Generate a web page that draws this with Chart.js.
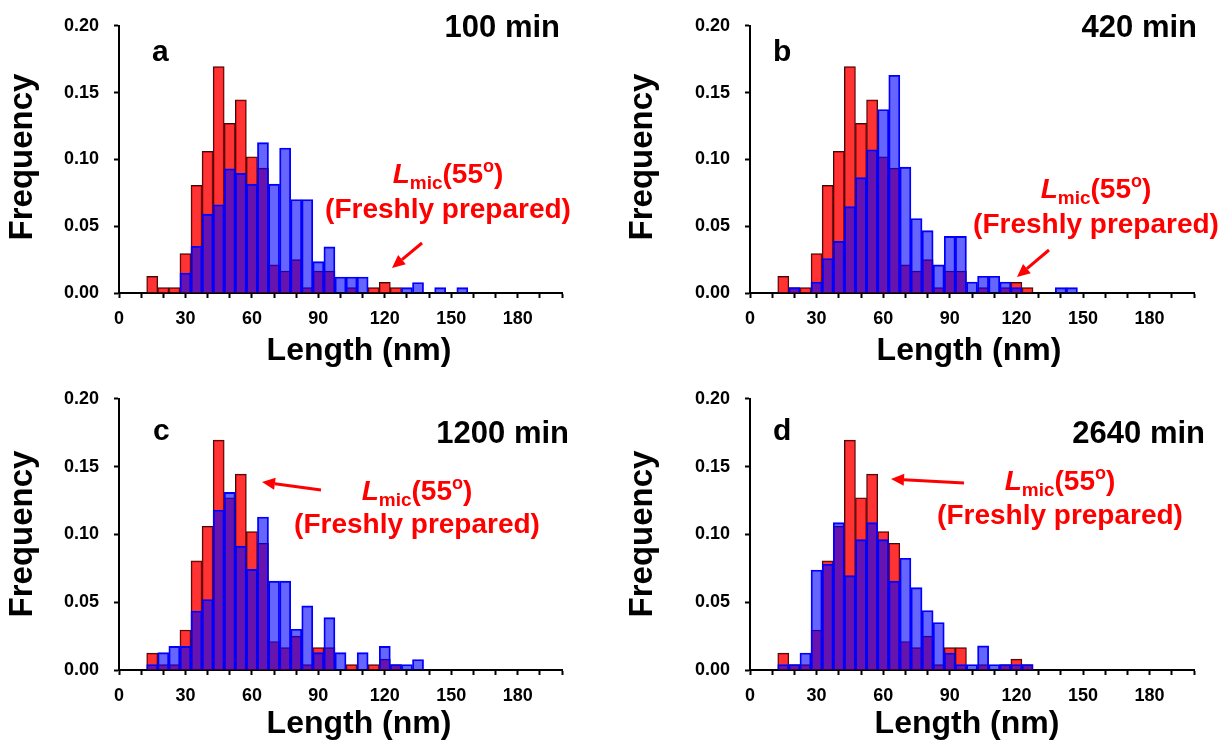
<!DOCTYPE html>
<html>
<head>
<meta charset="utf-8">
<script src="https://cdn.jsdelivr.net/npm/chart.js@4.4.1/dist/chart.umd.min.js"></script>
<style>
  html, body { margin: 0; padding: 0; background: #fff; }
  #wrap { position: relative; width: 1225px; height: 746px; overflow: hidden; }
  #wrap canvas { position: absolute; }
</style>
</head>
<body>
<div id="wrap">
  <canvas id="pa" width="612" height="373" style="left:0;top:0"></canvas>
  <canvas id="pb" width="613" height="373" style="left:612px;top:0"></canvas>
  <canvas id="pc" width="612" height="373" style="left:0;top:373px"></canvas>
  <canvas id="pd" width="613" height="373" style="left:612px;top:373px"></canvas>
</div>
<script>
// bin centres (nm), 5 nm wide
const bins = [15, 20, 25, 30, 35, 40, 45, 50, 55, 60, 65, 70, 75, 80, 85, 90, 95, 100,
              105, 110, 115, 120, 125, 130, 135, 140, 145, 150, 155];

// freshly prepared (red, same in every panel)
const fresh = [0.0125, 0.004, 0.004, 0.0295, 0.0805, 0.106, 0.1695, 0.127, 0.1445, 0.102,
               0.0935, 0.021, 0.0165, 0.025, 0.004, 0.0165, 0.0165, 0, 0.004, 0,
               0.004, 0.008, 0.004, 0, 0, 0, 0, 0, 0];

// aged samples (blue)
const len100 = [0, 0, 0, 0.015, 0.035, 0.059, 0.066, 0.093, 0.0895, 0.0815,
                0.1125, 0.0815, 0.1085, 0.070, 0.070, 0.0235, 0.0345, 0.012, 0.012, 0.012,
                0, 0, 0, 0.004, 0.0078, 0, 0.004, 0, 0.004];
const len420 = [0, 0.004, 0, 0.0082, 0.0258, 0.0386, 0.0646, 0.0863, 0.1072, 0.1373,
                0.163, 0.0942, 0.0557, 0.0467, 0.021, 0.0424, 0.0424, 0.0082, 0.0125, 0.0125,
                0.0082, 0.004, 0, 0, 0, 0.004, 0.004, 0, 0];
const len1200 = [0.004, 0.0128, 0.0174, 0.0174, 0.0435, 0.052, 0.118, 0.131, 0.0913, 0.0742,
                 0.1128, 0.0655, 0.0655, 0.030, 0.0473, 0.0128, 0.0386, 0.0128, 0, 0.0128,
                 0, 0.0174, 0.004, 0.004, 0.0077, 0, 0, 0, 0];
const len2640 = [0.004, 0.004, 0.0125, 0.0737, 0.078, 0.1087, 0.0696, 0.0961, 0.1087, 0.0961,
                 0.0655, 0.0824, 0.0607, 0.0439, 0.035, 0.0125, 0.004, 0.004, 0.0178, 0.004,
                 0.004, 0.004, 0.004, 0, 0, 0, 0, 0, 0];

const FONT = '"Liberation Sans", Arial, sans-serif';

const panels = [
  { id: 'pa', letter: 'a', time: '100 min', values: len100,
    area: { left: 119, right: 562, top: 17, bottom: 293 },
    letterPos: [152, 61], timePos: [560, 37],
    note: [448, 183, 218], arrow: [422, 243, 392, 268],
    yTitle: [32, 157], xTitle: [359, 360] },
  { id: 'pb', letter: 'b', time: '420 min', values: len420,
    area: { left: 138, right: 582, top: 17, bottom: 293 },
    letterPos: [161, 61], timePos: [585, 37],
    note: [484, 198, 233], arrow: [437, 250, 405, 277],
    yTitle: [40, 157], xTitle: [357, 360] },
  { id: 'pc', letter: 'c', time: '1200 min', values: len1200,
    area: { left: 119, right: 562, top: 21, bottom: 297 },
    letterPos: [153, 67], timePos: [569, 70],
    note: [417, 127, 160], arrow: [321, 117, 262, 109],
    yTitle: [32, 161], xTitle: [359, 360] },
  { id: 'pd', letter: 'd', time: '2640 min', values: len2640,
    area: { left: 138, right: 582, top: 21, bottom: 297 },
    letterPos: [161, 67], timePos: [593, 70],
    note: [448, 117, 151], arrow: [352, 110, 279, 106],
    yTitle: [40, 161], xTitle: [355, 360] }
];

function drawNote(ctx, cx, y1, y2) {
  const parts = [
    { t: 'L', f: 'italic bold 28px ' + FONT, dy: 0 },
    { t: 'mic', f: 'bold 19px ' + FONT, dy: 6 },
    { t: '(55', f: 'bold 28px ' + FONT, dy: 0 },
    { t: 'o', f: 'bold 18px ' + FONT, dy: -11 },
    { t: ')', f: 'bold 28px ' + FONT, dy: 0 }
  ];
  let total = 0;
  parts.forEach(p => { ctx.font = p.f; p.w = ctx.measureText(p.t).width; total += p.w; });
  let x = cx - total / 2;
  ctx.textAlign = 'left';
  parts.forEach(p => { ctx.font = p.f; ctx.fillText(p.t, x, y1 + p.dy); x += p.w; });
  ctx.font = 'bold 28px ' + FONT;
  ctx.textAlign = 'center';
  ctx.fillText('(Freshly prepared)', cx, y2);
}

function drawArrow(ctx, x1, y1, x2, y2) {
  const ang = Math.atan2(y2 - y1, x2 - x1);
  const head = 13, half = 6;
  const bx = x2 - head * Math.cos(ang), by = y2 - head * Math.sin(ang);
  ctx.lineWidth = 3;
  ctx.beginPath();
  ctx.moveTo(x1, y1);
  ctx.lineTo(bx, by);
  ctx.stroke();
  ctx.beginPath();
  ctx.moveTo(x2, y2);
  ctx.lineTo(bx + half * Math.sin(ang), by - half * Math.cos(ang));
  ctx.lineTo(bx - half * Math.sin(ang), by + half * Math.cos(ang));
  ctx.closePath();
  ctx.fill();
}

const panelText = {
  id: 'panelText',
  afterDraw(chart, args, p) {
    const ctx = chart.ctx;
    ctx.save();
    ctx.fillStyle = '#000';
    ctx.textBaseline = 'alphabetic';

    ctx.font = 'bold 30px ' + FONT;
    ctx.textAlign = 'left';
    ctx.fillText(p.letter, p.letterPos[0], p.letterPos[1]);
    ctx.font = 'bold 31px ' + FONT;
    ctx.textAlign = 'right';
    ctx.fillText(p.time, p.timePos[0], p.timePos[1]);

    ctx.font = 'bold 32px ' + FONT;
    ctx.textAlign = 'center';
    ctx.fillText('Length (nm)', p.xTitle[0], p.xTitle[1]);

    ctx.save();
    ctx.translate(p.yTitle[0], p.yTitle[1]);
    ctx.rotate(-Math.PI / 2);
    ctx.font = 'bold 33px ' + FONT;
    ctx.fillText('Frequency', 0, 0);
    ctx.restore();

    ctx.fillStyle = '#ff0000';
    ctx.strokeStyle = '#ff0000';
    drawNote(ctx, p.note[0], p.note[1], p.note[2]);
    drawArrow(ctx, p.arrow[0], p.arrow[1], p.arrow[2], p.arrow[3]);
    ctx.restore();
  }
};

function makePanel(p) {
  const canvas = document.getElementById(p.id);
  const W = canvas.width, H = canvas.height;
  const a = p.area;
  const toPoints = vals => bins.map((x, i) => ({ x: x, y: vals[i] || null }));

  new Chart(canvas.getContext('2d'), {
    type: 'bar',
    data: {
      datasets: [
        {
          label: p.time,
          data: toPoints(p.values),
          backgroundColor: 'rgba(0, 0, 255, 0.6)',
          borderColor: '#0000ff',
          borderWidth: 1.2,
          grouped: false,
          order: 0,
          barPercentage: 1,
          categoryPercentage: 1
        },
        {
          label: 'Freshly prepared',
          data: toPoints(fresh),
          backgroundColor: 'rgba(255, 0, 0, 0.8)',
          borderColor: '#2a1010',
          borderWidth: 1,
          grouped: false,
          order: 1,
          barPercentage: 1,
          categoryPercentage: 1
        }
      ]
    },
    options: {
      responsive: false,
      animation: false,
      layout: { padding: { left: 0, top: a.top, right: W - a.right, bottom: 0 } },
      plugins: {
        legend: { display: false },
        tooltip: { enabled: false },
        panelText: p
      },
      scales: {
        x: {
          type: 'linear',
          min: 0,
          max: 200,
          offset: false,
          afterFit: s => { s.height = H - a.bottom; },
          grid: { offset: false, drawOnChartArea: false, drawTicks: true, tickLength: 5, tickWidth: 2, tickColor: '#000' },
          border: { display: true, color: '#000', width: 2 },
          ticks: {
            stepSize: 10,
            autoSkip: false,
            maxRotation: 0,
            padding: 10,
            color: '#000',
            font: { family: FONT, size: 18, weight: 'bold' },
            callback: v => (v % 30 === 0 ? String(v) : '')
          }
        },
        y: {
          min: 0,
          max: 0.2,
          afterFit: s => { s.width = a.left; },
          grid: { drawOnChartArea: false, drawTicks: true, tickLength: 5, tickWidth: 2, tickColor: '#000' },
          border: { display: true, color: '#000', width: 2 },
          ticks: {
            stepSize: 0.05,
            padding: 15,
            color: '#000',
            font: { family: FONT, size: 18, weight: 'bold' },
            callback: v => v.toFixed(2)
          }
        }
      }
    },
    plugins: [panelText]
  });
}

panels.forEach(makePanel);
</script>
</body>
</html>
